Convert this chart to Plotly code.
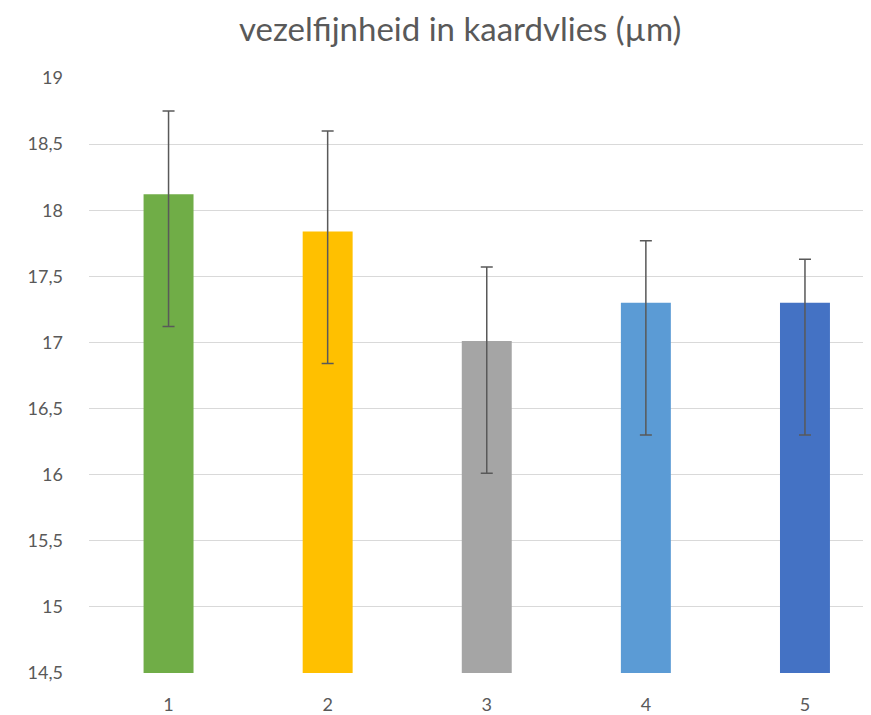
import plotly.graph_objects as go

categories = ["1", "2", "3", "4", "5"]
values = [18.12, 17.84, 17.01, 17.30, 17.30]
err_plus = [0.63, 0.76, 0.56, 0.47, 0.33]
err_minus = [1.0, 1.0, 1.0, 1.0, 1.0]
colors = ["#70AD47", "#FFC000", "#A5A5A5", "#5B9BD5", "#4472C4"]
y_ticks = [14.5, 15, 15.5, 16, 16.5, 17, 17.5, 18, 18.5, 19]
y_tick_labels = ["14,5", "15", "15,5", "16", "16,5", "17", "17,5", "18", "18,5", "19"]

x_pos = list(range(1, len(categories) + 1))

fig = go.Figure(
    go.Bar(
        x=x_pos,
        y=[v - 14.5 for v in values],
        base=14.5,
        width=0.314,
        marker=dict(color=colors, line=dict(width=0)),
        error_y=dict(
            type="data",
            symmetric=False,
            array=err_plus,
            arrayminus=err_minus,
            color="#595959",
            thickness=1.5,
            width=6,
        ),
        hoverinfo="skip",
    )
)

font_family = "Lato, Open Sans, sans-serif"

fig.update_layout(
    width=863,
    height=707,
    margin=dict(l=81, r=0, t=70, b=39),
    paper_bgcolor="white",
    plot_bgcolor="white",
    showlegend=False,
    title=dict(
        text="vezelfijnheid in kaardvlies (µm)",
        x=0.524,
        xanchor="center",
        y=0.969,
        yanchor="middle",
        font=dict(family=font_family, size=33, color="#595959"),
    ),
    font=dict(family=font_family, size=18, color="#595959"),
)

fig.update_xaxes(
    range=[0.5, 5.415],
    tickvals=x_pos,
    ticktext=categories,
    showgrid=False,
    zeroline=False,
    showline=False,
    ticks="",
    ticklabelstandoff=19,
)
fig.update_yaxes(
    range=[14.5, 19],
    tickvals=y_ticks,
    ticktext=y_tick_labels,
    showgrid=True,
    gridcolor="#D9D9D9",
    gridwidth=1.3,
    zeroline=False,
    showline=False,
    ticks="",
    ticklabelstandoff=25,
)

fig.write_html("out.html")
